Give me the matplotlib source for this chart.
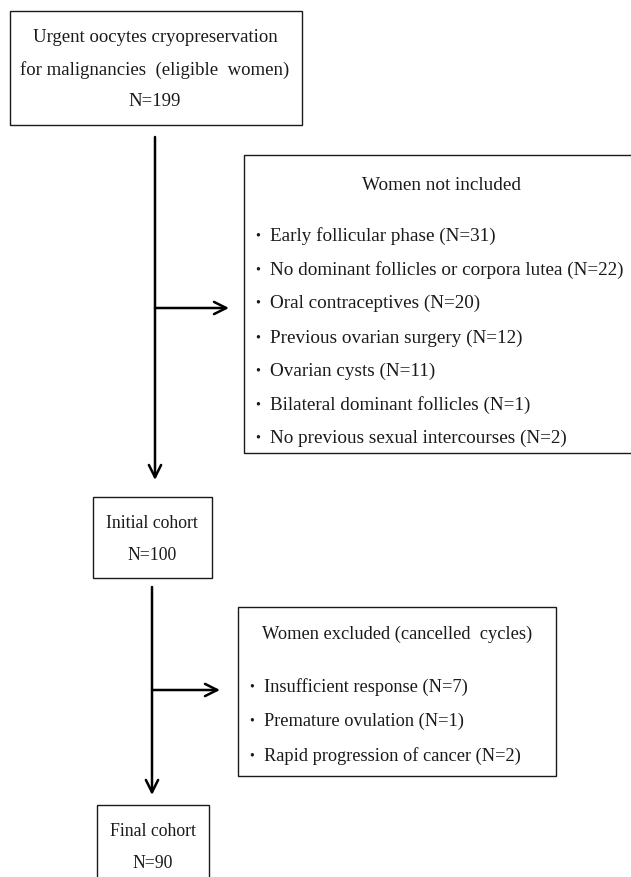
import matplotlib.pyplot as plt
from matplotlib.patches import Rectangle

# flowchart content
top_lines = ["Urgent oocytes cryopreservation",
             "for malignancies  (eligible  women)",
             "N=199"]
not_included_title = "Women not included"
not_included = ["Early follicular phase (N=31)",
                "No dominant follicles or corpora lutea (N=22)",
                "Oral contraceptives (N=20)",
                "Previous ovarian surgery (N=12)",
                "Ovarian cysts (N=11)",
                "Bilateral dominant follicles (N=1)",
                "No previous sexual intercourses (N=2)"]
initial_lines = ["Initial cohort", "N=100"]
excluded_title = "Women excluded (cancelled  cycles)"
excluded = ["Insufficient response (N=7)",
            "Premature ovulation (N=1)",
            "Rapid progression of cancer (N=2)"]
final_lines = ["Final cohort", "N=90"]

W, H = 631, 877
fig = plt.figure(figsize=(W / 100, H / 100), dpi=100)
ax = fig.add_axes([0, 0, 1, 1])
ax.set_xlim(0, W)
ax.set_ylim(H, 0)
ax.axis('off')

plt.rcParams['font.family'] = ['Liberation Serif', 'DejaVu Serif']
col = '#1a1a1a'


def box(x0, y0, x1, y1):
    ax.add_patch(Rectangle((x0, y0), x1 - x0, y1 - y0, fill=False,
                           ec=col, lw=1.0))


def arrow(x0, y0, x1, y1):
    ax.annotate('', xy=(x1, y1), xytext=(x0, y0),
                arrowprops=dict(arrowstyle='->', color='black', lw=1.8,
                                mutation_scale=22, shrinkA=0, shrinkB=0))


# top box
box(10, 11, 302, 125)
for y, t in zip([37, 70, 102], top_lines):
    ax.text(155, y, t, ha='center', va='center', fontsize=13.5, color=col)

# first arrow and branch
arrow(155, 137, 155, 480)
arrow(155, 308, 229, 308)

# not included box
fs1 = 13.8
box(244, 155, 640, 453)
ax.text(442, 185, not_included_title, ha='center', va='center', fontsize=fs1, color=col)
for y, t in zip([236, 270, 303, 338, 371, 405, 438], not_included):
    ax.text(258, y, '\u2022', ha='center', va='center', fontsize=fs1 * 0.75, color=col)
    ax.text(270, y, t, ha='left', va='center', fontsize=fs1, color=col)

# initial cohort
box(93, 497, 212, 578)
for y, t in zip([523, 555], initial_lines):
    ax.text(152, y, t, ha='center', va='center', fontsize=12.8, color=col)

arrow(152, 587, 152, 795)
arrow(152, 690, 220, 690)

# excluded box
fs2 = 13.2
box(238, 607, 556, 776)
ax.text(397, 634, excluded_title, ha='center', va='center', fontsize=fs2, color=col)
for y, t in zip([687, 721, 756], excluded):
    ax.text(252, y, '\u2022', ha='center', va='center', fontsize=fs2 * 0.75, color=col)
    ax.text(264, y, t, ha='left', va='center', fontsize=fs2, color=col)

# final cohort
box(97, 805, 209, 900)
for y, t in zip([831, 863], final_lines):
    ax.text(153, y, t, ha='center', va='center', fontsize=12.8, color=col)

fig.savefig('out.png', dpi=100)
